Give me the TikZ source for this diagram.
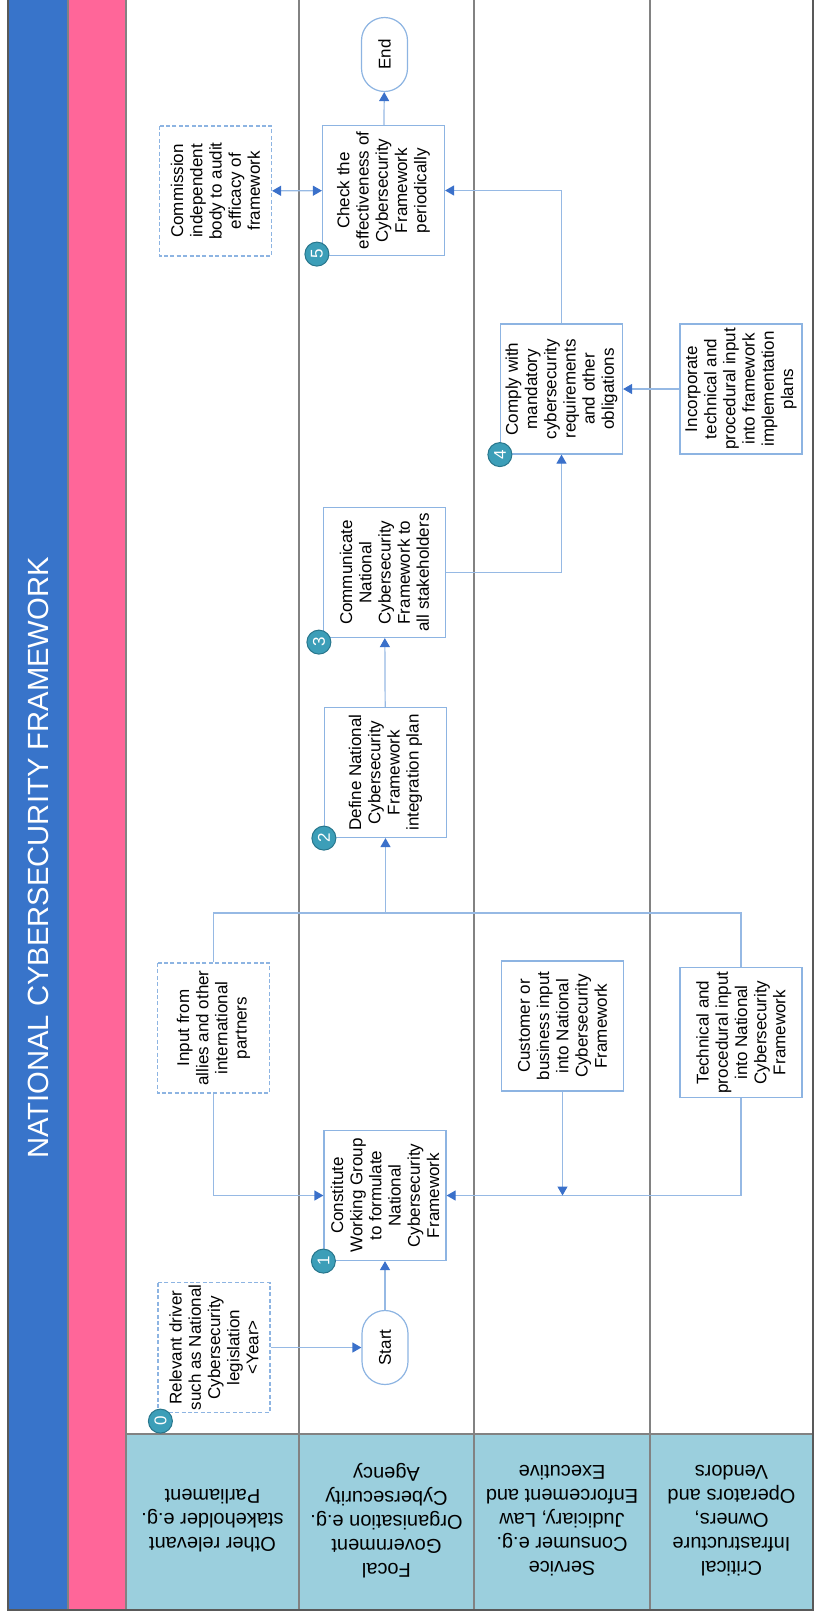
\documentclass[tikz,border=0pt]{standalone}
\usepackage{fontspec}
\setmainfont{Liberation Sans}
\usetikzlibrary{arrows.meta,positioning}

\definecolor{titleblue}{RGB}{56,116,202}
\definecolor{bandpink}{RGB}{255,102,153}
\definecolor{headfill}{RGB}{155,207,221}
\definecolor{boxblue}{RGB}{141,180,226}
\definecolor{lineblue}{RGB}{150,185,228}
\definecolor{tipblue}{RGB}{58,112,202}
\definecolor{dotteal}{RGB}{60,158,184}
\definecolor{dotedge}{RGB}{40,118,140}
\definecolor{laneline}{RGB}{130,130,130}

\begin{document}
\begin{tikzpicture}[
  x=0.5pt, y=-0.5pt,
  >={Triangle[length=4.5pt,width=5pt,color=tipblue]},
  every node/.style={font=\fontsize{8.5}{9.6}\selectfont, align=center},
  stepbox/.style={draw=boxblue, line width=0.6pt, fill=white, rotate=90,
                  minimum width=65pt, minimum height=61pt, inner sep=1pt},
  notebox/.style={stepbox, dash pattern=on 2pt off 1.2pt, minimum height=56pt},
  termbox/.style={draw=boxblue, line width=0.6pt, fill=white, rotate=90,
                  rounded corners=11.5pt, minimum width=37pt, minimum height=23pt},
  numdot/.style={circle, draw=dotedge, line width=0.5pt, fill=dotteal, text=white,
                 minimum size=12pt, inner sep=0pt, rotate=90},
  lanehead/.style={rotate=180, font=\fontsize{10}{12}\selectfont},
  flow/.style={draw=lineblue, line width=0.6pt, ->},
  link/.style={draw=lineblue, line width=0.6pt}
]
\useasboundingbox (0,0) rectangle (819,1617);

% --- Bands and lanes ---
\fill[titleblue] (8,-5) rectangle (68,1610);
\fill[bandpink] (68,-5) rectangle (126,1610);
\fill[headfill] (126,1434) rectangle (813,1610);
\draw[laneline, line width=0.6pt] (68,-5) -- (68,1610);
\draw[laneline, line width=0.6pt] (126,-5) -- (126,1610);
\draw[laneline, line width=0.6pt] (299,-5) -- (299,1610);
\draw[laneline, line width=0.6pt] (474,-5) -- (474,1610);
\draw[laneline, line width=0.6pt] (650,-5) -- (650,1610);
\draw[laneline, line width=0.6pt] (126,1434) -- (813,1434);
\draw[black!65, line width=0.8pt] (8,-5) -- (8,1610) -- (813,1610) -- (813,-5);

\node[rotate=90, text=white, font=\fontsize{14.6}{17}\selectfont] (title) at (38,858)
  {NATIONAL CYBERSECURITY FRAMEWORK};

% --- Lane headers ---
\node[lanehead] (h1) at (212.5,1521) {Other relevant\\stakeholder e.g.\\Parliament};
\node[lanehead] (h2) at (386.5,1521) {Focal\\Government\\Organisation e.g.\\Cybersecurity\\Agency};
\node[lanehead] (h3) at (562,1521) {Service\\Consumer e.g.\\Judiciary, Law\\Enforcement and\\Executive};
\node[lanehead] (h4) at (731.5,1521) {Critical\\Infrastructure\\Owners,\\Operators and\\Vendors};

% --- Process nodes ---
\node[notebox] (drv) at (214,1347.5) {Relevant driver\\such as National\\Cybersecurity\\legislation\\<Year>};
\node[termbox] (start) at (385,1347.5) {Start};
\node[stepbox] (s1) at (385,1195.5) {Constitute\\Working Group\\to formulate\\National\\Cybersecurity\\Framework};
\node[notebox] (allies) at (213.5,1028) {Input from\\allies and other\\international\\partners};
\node[stepbox] (cust) at (562.5,1026) {Customer or\\business input\\into National\\Cybersecurity\\Framework};
\node[stepbox] (tech) at (741,1032.5) {Technical and\\procedural input\\into National\\Cybersecurity\\Framework};
\node[stepbox] (s2) at (385.5,772.5) {Define National\\Cybersecurity\\Framework\\integration plan};
\node[stepbox] (s3) at (384.5,572.5) {Communicate\\National\\Cybersecurity\\Framework to\\all stakeholders};
\node[stepbox] (s4) at (561.5,389) {Comply with\\mandatory\\cybersecurity\\requirements\\and other\\obligations};
\node[stepbox] (incorp) at (741,389) {Incorporate\\technical and\\procedural input\\into framework\\implementation\\plans};
\node[stepbox] (s5) at (383.5,190.5) {Check the\\effectiveness of\\Cybersecurity\\Framework\\periodically};
\node[notebox] (audit) at (215.5,191) {Commission\\independent\\body to audit\\efficacy of\\framework};
\node[termbox] (end) at (384.5,54.5) {End};

% --- Step numbers ---
\node[numdot] (k0) at ([shift={(3,8)}]drv.north west) {0};
\node[numdot] (k1) at (s1.north west) {1};
\node[numdot] (k2) at (s2.north west) {2};
\node[numdot] (k3) at ([shift={(-4,4)}]s3.north west) {3};
\node[numdot] (k4) at (s4.north west) {4};
\node[numdot] (k5) at ([shift={(-5,-2)}]s5.north west) {5};

% --- Connectors ---
\coordinate (jc) at (cust |- s1);
\coordinate (j2) at (s2 |- 0,913);
\draw[flow] (drv) -- (start);
\draw[flow] (start) -- (s1);
\draw[flow] (allies) |- (s1);
\draw[flow] (tech) |- (s1);
\draw[flow] (cust) -- (jc);
\draw[link] (allies) |- (j2);
\draw[link] (tech) |- (j2);
\draw[flow] (j2) -- (s2);
\draw[flow] (s2) -- (s3);
\draw[flow] (s3) -| (s4);
\draw[flow] (incorp) -- (s4);
\draw[flow] (s4) |- (s5);
\draw[flow, <->] (audit) -- (s5);
\draw[flow] (s5) -- (end);

\end{tikzpicture}
\end{document}
